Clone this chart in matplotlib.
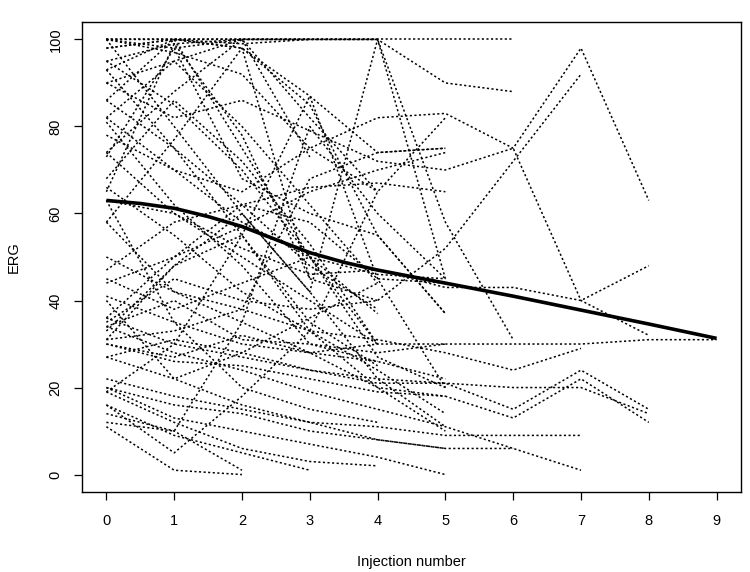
import matplotlib.pyplot as plt

# ERG value per injection (index = injection number), one list per patient
patients = [
    [100, 100, 100, 100, 100, 100, 100],
    [98, 100, 100, 100, 100, 90, 88],
    [95, 99, 100, 100, 100, 58, 31],
    [78, 70, 65, 75, 82, 83, 75, 98, 63],
    [35, 45, 40, 38, 40, 52, 72, 92],
    [90, 82, 86, 79, 72, 70, 75, 40, 32],
    [63, 60, 52, 46, 47, 43, 43, 40, 48],
    [41, 35, 30, 28, 30, 30, 30, 30, 31, 31],
    [50, 42, 38, 33, 31, 28, 24, 29],
    [36, 30, 27, 24, 22, 21, 15, 24, 15],
    [30, 26, 25, 22, 19, 18, 13, 22, 12],
    [27, 31, 28, 24, 21, 21, 20, 20, 14],
    [22, 18, 15, 12, 11, 9, 9, 9],
    [34, 28, 24, 19, 15, 11, 6, 1],
    [20, 16, 14, 10, 8, 6, 6],
    [100, 98, 100, 100, 100],
    [93, 100, 99, 100],
    [100, 97, 92, 75, 65],
    [86, 100, 98, 87, 74, 75],
    [82, 95, 100, 73],
    [74, 88, 100, 82, 65],
    [73, 98, 68, 60, 55, 37],
    [68, 86, 72, 53, 30],
    [65, 99, 78, 45, 40],
    [58, 77, 98, 45],
    [31, 48, 60, 42, 100, 45],
    [47, 58, 62, 66, 67, 65],
    [44, 50, 57, 65, 70, 74],
    [31, 33, 38, 68, 74, 75],
    [12, 10, 35, 80, 60, 45],
    [19, 30, 55, 87, 45, 20],
    [16, 5, 18, 33, 65, 82],
    [11, 1, 0],
    [14, 10, 1],
    [16, 9, 5, 1],
    [19, 12, 6, 3, 2],
    [20, 13, 10, 7, 4, 0],
    [27, 22, 16, 12, 8, 6],
    [30, 27, 32, 28, 26, 22],
    [33, 48, 55, 35, 25],
    [34, 40, 31, 30, 28, 30],
    [36, 50, 62, 48, 38],
    [58, 42, 35, 28, 20, 18],
    [63, 35, 20, 15, 12],
    [66, 55, 42, 33, 20, 10],
    [74, 60, 50, 40, 30],
    [82, 70, 58, 50, 46, 45],
    [86, 75, 62, 58, 45, 44],
    [90, 95, 80, 62, 44],
    [93, 75, 55, 33, 24, 14],
    [95, 85, 70, 50, 30],
    [98, 100, 75, 50, 27, 20],
    [100, 80, 60, 42, 22, 11],
    [100, 100, 98, 85, 55, 37],
    [81, 62, 48, 30, 26],
    [45, 38, 44, 50, 37],
    [40, 22, 28, 36, 44],
]

mean_x = [0, 0.5, 1, 1.5, 2, 2.5, 3, 3.5, 4, 5, 6, 7, 8, 9]
mean_erg = [63, 62.3, 61.2, 59.3, 57, 54, 51, 48.8, 47, 44, 41, 37.8, 34.6, 31.3]

plt.rcParams['font.family'] = ['Liberation Sans', 'DejaVu Sans']
fig = plt.figure(figsize=(7.5, 5.72), dpi=100)
ax = fig.add_axes([0.1093, 0.1399, 0.8787, 0.8216])

for vals in patients:
    ax.plot(range(len(vals)), vals, color='black', lw=1.1,
            linestyle=(0, (1.4, 1.6)))
ax.plot(mean_x, mean_erg, color='black', lw=2.6, solid_capstyle='butt')

ax.set_xlim(-0.36, 9.36)
ax.set_ylim(-4, 104)
ax.set_xticks(range(10))
ax.set_yticks([0, 20, 40, 60, 80, 100])
ax.tick_params(direction='out', length=6, width=0.9, labelsize=10.5, pad=8)
ax.tick_params(axis='x', pad=10)
for lab in ax.get_yticklabels():
    lab.set_rotation(90)
    lab.set_va('center')
for s in ax.spines.values():
    s.set_linewidth(1)
ax.set_xlabel('Injection number', fontsize=10.5, labelpad=19)
ax.set_ylabel('ERG', fontsize=10.5, labelpad=20)

fig.savefig('out.png', dpi=100)
